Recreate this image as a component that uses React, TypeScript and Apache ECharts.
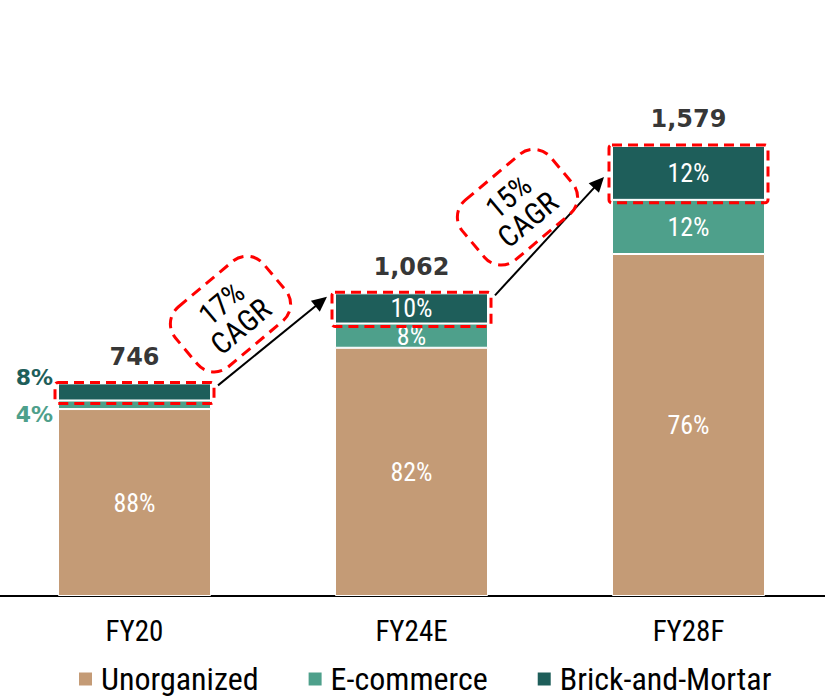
import React, { useEffect, useRef } from "react";
import * as echarts from "echarts";

const categories = ["FY20", "FY24E", "FY28F"];
const unorganized = [656, 871, 1200];
const ecommerce = [30, 85, 190];
const brickMortar = [60, 106, 189];
const totals = [746, 1062, 1579];
const totalLabels = ["746", "1,062", "1,579"];
const unorgPct = ["88%", "82%", "76%"];
const ecomPct = ["4%", "8%", "12%"];
const brickPct = ["8%", "10%", "12%"];
const cagrLabels = ["17%", "15%"];
const arrowEndValues = [1050, 1470];

const NARROW = "'Liberation Sans Narrow', 'Roboto Condensed', 'DejaVu Sans Condensed', 'Liberation Sans', sans-serif";
const BOLDF = "'DejaVu Sans', Verdana, sans-serif";
const C_UNORG = "#C49B76";
const C_ECOM = "#4EA08B";
const C_BRICK = "#1E5E5A";
const BAR_W = 153;
const BUBBLE_OFFSETS = [
  [-42, -27],
  [-32, -29],
];

export default function App() {
  const ref = useRef<HTMLDivElement>(null);
  useEffect(() => {
    if (!ref.current) return;
    const chart = echarts.init(ref.current, undefined, { renderer: "svg" });
    const inside = { show: true, position: "inside", color: "#fff", fontSize: 26, fontFamily: NARROW };
    const option: any = {
      animation: false,
      backgroundColor: "#fff",
      grid: { left: -4, width: 831, top: 83, bottom: 103, outerBoundsMode: "none", containLabel: false },
      legend: {
        data: ["Unorganized", "E-commerce", "Brick-and-Mortar"],
        left: 72,
        top: 658,
        icon: "rect",
        itemWidth: 15,
        itemHeight: 15,
        itemGap: 48,
        textStyle: { fontSize: 32, lineHeight: 32, fontFamily: NARROW, color: "#000", padding: [0, 0, 0, 3] },
      },
      xAxis: {
        type: "category",
        data: categories,
        axisTick: { show: false },
        axisLine: { lineStyle: { color: "#000", width: 2 } },
        axisLabel: { color: "#000", fontSize: 29, fontFamily: NARROW, margin: 20 },
      },
      yAxis: { type: "value", min: 0, max: 1800, show: false, splitLine: { show: false } },
      series: [
        {
          name: "Unorganized",
          type: "bar",
          stack: "t",
          barWidth: BAR_W,
          data: unorganized,
          itemStyle: { color: C_UNORG, borderColor: "#fff", borderWidth: 1 },
          label: { ...inside, formatter: (p: any) => unorgPct[p.dataIndex] },
        },
        {
          name: "E-commerce",
          type: "bar",
          stack: "t",
          barWidth: BAR_W,
          data: ecommerce.map((v, i) =>
            i === 0
              ? {
                  value: v,
                  label: {
                    show: true,
                    position: "left",
                    distance: 5,
                    offset: [0, 10],
                    color: C_ECOM,
                    fontWeight: "bold",
                    fontSize: 22,
                    fontFamily: BOLDF,
                  },
                }
              : v
          ),
          itemStyle: { color: C_ECOM, borderColor: "#fff", borderWidth: 1 },
          label: { ...inside, formatter: (p: any) => ecomPct[p.dataIndex] },
        },
        {
          name: "Brick-and-Mortar",
          type: "bar",
          stack: "t",
          barWidth: BAR_W,
          data: brickMortar.map((v, i) =>
            i === 0
              ? {
                  value: v,
                  label: {
                    show: true,
                    position: "left",
                    distance: 5,
                    offset: [0, -14],
                    color: C_BRICK,
                    fontWeight: "bold",
                    fontSize: 22,
                    fontFamily: BOLDF,
                  },
                }
              : v
          ),
          itemStyle: { color: C_BRICK, borderColor: "#fff", borderWidth: 1 },
          label: { ...inside, formatter: (p: any) => brickPct[p.dataIndex] },
        },
        {
          type: "scatter",
          data: totals,
          symbolSize: 1,
          itemStyle: { color: "rgba(0,0,0,0)" },
          silent: true,
          label: {
            show: true,
            position: "top",
            distance: 14,
            color: "#000",
            fontSize: 24,
            fontWeight: "bold",
            fontFamily: BOLDF,
            formatter: (p: any) => totalLabels[p.dataIndex],
          },
          z: 6,
        },
        {
          type: "custom",
          z: 5,
          clip: false,
          silent: true,
          encode: { x: 0, y: [1, 2] },
          data: categories.map((_, i) => [i, unorganized[i] + ecommerce[i], totals[i]]),
          renderItem: (params: any, api: any) => {
            const top = api.coord([api.value(0), api.value(2)]);
            const bot = api.coord([api.value(0), api.value(1)]);
            const half = BAR_W / 2 + 3;
            return {
              type: "rect",
              shape: { x: top[0] - half, y: top[1] - 1, width: half * 2, height: bot[1] - top[1] + 4, r: 3 },
              style: { fill: "none", stroke: "#FF0000", lineWidth: 3, lineDash: [10, 6] },
            };
          },
        },
        {
          type: "custom",
          z: 5,
          clip: false,
          silent: true,
          encode: { x: [0, 2], y: [1, 3] },
          data: cagrLabels.map((_, i) => [i, totals[i], i + 1, arrowEndValues[i]]),
          renderItem: (params: any, api: any) => {
            const s = api.coord([api.value(0), api.value(1)]);
            const e = api.coord([api.value(2), api.value(3)]);
            const x1 = s[0] + BAR_W / 2 + 7;
            const y1 = s[1] + 2;
            const x2 = e[0] - BAR_W / 2 - 8;
            const y2 = e[1];
            const a = Math.atan2(y2 - y1, x2 - x1);
            const L = 15;
            const W = 7;
            const bx = x2 - L * Math.cos(a);
            const by = y2 - L * Math.sin(a);
            const off = BUBBLE_OFFSETS[params.dataIndex];
            const mx = (x1 + x2) / 2 + off[0];
            const my = (y1 + y2) / 2 + off[1];
            return {
              type: "group",
              children: [
                {
                  type: "line",
                  shape: { x1, y1, x2: bx + 2 * Math.cos(a), y2: by + 2 * Math.sin(a) },
                  style: { stroke: "#000", lineWidth: 2 },
                },
                {
                  type: "polygon",
                  shape: {
                    points: [
                      [x2, y2],
                      [bx + W * Math.sin(a), by - W * Math.cos(a)],
                      [bx - W * Math.sin(a), by + W * Math.cos(a)],
                    ],
                  },
                  style: { fill: "#000" },
                },
                {
                  type: "group",
                  x: mx,
                  y: my,
                  rotation: (40 * Math.PI) / 180,
                  children: [
                    {
                      type: "rect",
                      shape: { x: -57.5, y: -39, width: 115, height: 78, r: 22 },
                      style: { fill: "none", stroke: "#FF0000", lineWidth: 3, lineDash: [11, 7] },
                    },
                    {
                      type: "text",
                      style: {
                        text: cagrLabels[params.dataIndex] + "\nCAGR",
                        x: 0,
                        y: 1,
                        align: "center",
                        verticalAlign: "middle",
                        fontSize: 30,
                        lineHeight: 30,
                        fontFamily: NARROW,
                        fill: "#000",
                      },
                    },
                  ],
                },
              ],
            };
          },
        },
      ],
    };
    chart.setOption(option);
    return () => chart.dispose();
  }, []);
  return <div ref={ref} style={{ position: "fixed", left: 0, top: 0, width: 825, height: 699, background: "#fff" }} />;
}
